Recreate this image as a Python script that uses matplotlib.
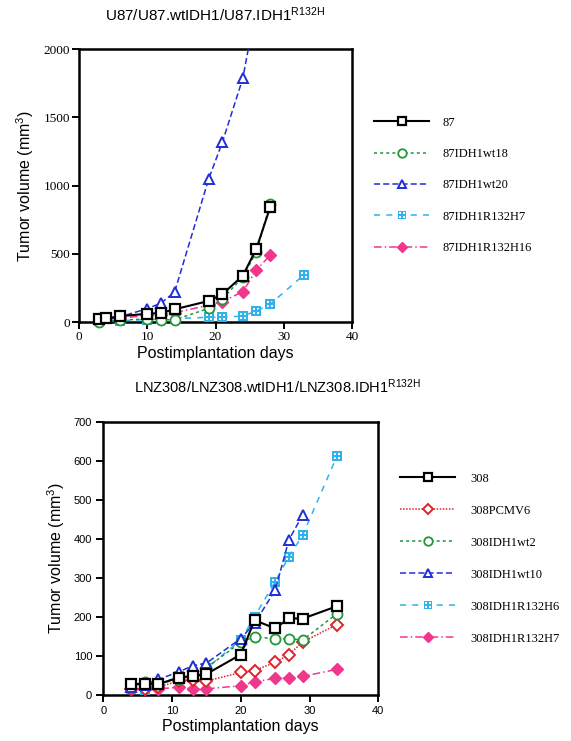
import matplotlib
matplotlib.use("Agg")
import matplotlib.pyplot as plt
from matplotlib.path import Path
import numpy as np

# ---------------- data ----------------
# Top panel: U87 lines
top_days_87 = [3, 4, 6, 10, 12, 14, 19, 21, 24, 26, 28]
top_v_87 = [22, 29, 44, 63, 68, 95, 156, 205, 341, 539, 841]
top_days_wt18 = [3, 6, 10, 12, 14, 19, 21, 24, 26, 28]
top_v_wt18 = [5, 15, 25, 20, 18, 102, 171, 330, 517, 868]
top_days_wt20 = [3, 4, 6, 10, 12, 14, 19, 21, 24, 26]
top_v_wt20 = [5, 15, 40, 100, 140, 220, 1049, 1317, 1785, 2320]
top_days_h7 = [3, 6, 10, 12, 19, 21, 24, 26, 28, 33]
top_v_h7 = [10, 12, 20, 22, 37, 37, 46, 83, 132, 349]
top_days_h16 = [3, 6, 10, 12, 14, 19, 21, 24, 26, 28]
top_v_h16 = [15, 30, 50, 55, 70, 125, 151, 224, 383, 490]

top_labels = ["87", "87IDH1wt18", "87IDH1wt20", "87IDH1R132H7", "87IDH1R132H16"]

# Bottom panel: LNZ308 lines
bot_days = [4, 6, 8, 11, 13, 15, 20, 22, 25, 27, 29, 34]
bot_v_308 = [27, 27, 27, 44, 48, 53, 103, 191, 170, 196, 195, 227]
bot_v_pcmv6 = [15, 15, 20, 35, 38, 35, 57, 62, 83, 103, 135, 180]
bot_v_wt2 = [25, 32, 28, 40, 50, 69, 134, 149, 143, 144, 140, 208]
bot_days_wt10 = [4, 6, 8, 11, 13, 15, 20, 22, 25, 27, 29]
bot_v_wt10 = [20, 25, 39, 59, 74, 81, 144, 183, 268, 397, 461]
bot_v_h6 = [15, 13, 25, 48, 58, 68, 140, 200, 290, 354, 409, 612]
bot_v_h7 = [15, 15, 15, 19, 15, 15, 23, 33, 42, 42, 47, 65]

bot_labels = ["308", "308PCMV6", "308IDH1wt2", "308IDH1wt10",
              "308IDH1R132H6", "308IDH1R132H7"]

top_yticks = [0, 500, 1000, 1500, 2000]
bot_yticks = [0, 100, 200, 300, 400, 500, 600, 700]
xticks = [0, 10, 20, 30, 40]

# ---------------- style ----------------
plt.rcParams['mathtext.fontset'] = 'custom'
plt.rcParams['mathtext.rm'] = 'Liberation Sans'
plt.rcParams['mathtext.it'] = 'Liberation Sans:italic'
plt.rcParams['mathtext.bf'] = 'Liberation Sans:bold'

BLACK = '#000000'
GREEN = '#23963a'
BLUE = '#1f2fd6'
CYAN = '#2eb4ea'
PINK = '#f0378e'
RED = '#e0222a'

SANS = 'Liberation Sans'
SERIF = 'Liberation Serif'
MS = 7.2


def window_marker():
    verts = [(-1, -1), (1, -1), (1, 1), (-1, 1), (-1, -1)]
    codes = [Path.MOVETO, Path.LINETO, Path.LINETO, Path.LINETO, Path.CLOSEPOLY]
    s = 0.2
    c = 0.36
    for cx, cy in [(-c, -c), (c, -c), (c, c), (-c, c)]:
        verts += [(cx - s, cy - s), (cx - s, cy + s), (cx + s, cy + s),
                  (cx + s, cy - s), (cx - s, cy - s)]
        codes += [Path.MOVETO, Path.LINETO, Path.LINETO, Path.LINETO, Path.CLOSEPOLY]
    return Path(verts, codes)


WIN = window_marker()

fig = plt.figure(figsize=(5.71, 7.41), dpi=100)

ax1 = fig.add_axes([79 / 571, 1 - 322.3 / 741, 273 / 571, 273.3 / 741])
ax2 = fig.add_axes([103.3 / 571, 1 - 694.7 / 741, 275 / 571, 273 / 741])


def style_axes(ax, yticks, tickfont, ticksize, pad):
    ax.set_xlim(0, 40)
    ax.set_ylim(yticks[0], yticks[-1])
    ax.set_xticks(xticks)
    ax.set_yticks(yticks)
    for sp in ax.spines.values():
        sp.set_linewidth(1.8)
    ax.tick_params(direction='out', length=5, width=1.4, pad=pad)
    for lab in ax.get_xticklabels() + ax.get_yticklabels():
        lab.set_fontfamily(tickfont)
        lab.set_fontsize(ticksize)
    ax.set_xlabel('Postimplantation days', fontfamily=SANS, fontsize=11.5, labelpad=2)
    ax.set_ylabel('Tumor volume (mm$^{3}$)', fontfamily=SANS, fontsize=11.5, labelpad=5)


# ---------------- top panel ----------------
common = dict(clip_on=False, zorder=3)
h_h7, = ax1.plot(top_days_h7, top_v_h7, color=CYAN, lw=1.1, ls=(0, (4, 4)),
                 marker=WIN, ms=7.6, mfc=CYAN, mec=CYAN, mew=0, **common)
h_h16, = ax1.plot(top_days_h16, top_v_h16, color=PINK, lw=1.1, ls=(0, (5, 2, 1, 2)),
                  marker='D', ms=5.8, mfc=PINK, mec=PINK, mew=1, **common)
h_wt20, = ax1.plot(top_days_wt20, top_v_wt20, color=BLUE, lw=1.1, ls=(0, (4, 2)),
                   marker='^', ms=MS, mfc='white', mec=BLUE, mew=1.4, clip_on=True, zorder=3)
h_wt18, = ax1.plot(top_days_wt18, top_v_wt18, color=GREEN, lw=1.1, ls=(0, (2, 2)),
                   marker='o', ms=MS, mfc='white', mec=GREEN, mew=1.3, **common)
h_87, = ax1.plot(top_days_87, top_v_87, color=BLACK, lw=1.5, ls='-',
                 marker='s', ms=MS, mfc='white', mec=BLACK, mew=1.6, clip_on=False, zorder=4)

style_axes(ax1, top_yticks, SERIF, 9.5, 1.5)

fig.text(215 / 571, 1 - 15 / 741, 'U87/U87.wtIDH1/U87.IDH1$^{\\mathrm{R132H}}$',
         ha='center', va='center', fontfamily=SANS, fontsize=11)

leg1 = fig.legend([h_87, h_wt18, h_wt20, h_h7, h_h16], top_labels,
                  loc='upper left', bbox_to_anchor=(374 / 571, 1 - 116.5 / 741),
                  frameon=False, prop={'family': SERIF, 'size': 9},
                  handlelength=4.4, handletextpad=1.1, labelspacing=1.55,
                  borderpad=0, borderaxespad=0, markerscale=0.85)

# ---------------- bottom panel ----------------
b_h6, = ax2.plot(bot_days, bot_v_h6, color=CYAN, lw=1.1, ls=(0, (4, 4)),
                 marker=WIN, ms=7.6, mfc=CYAN, mec=CYAN, mew=0, **common)
b_h7, = ax2.plot(bot_days, bot_v_h7, color=PINK, lw=1.1, ls=(0, (5, 2, 1, 2)),
                 marker='D', ms=5.8, mfc=PINK, mec=PINK, mew=1, **common)
b_pc, = ax2.plot(bot_days, bot_v_pcmv6, color=RED, lw=1.1, ls=(0, (1, 1)),
                 marker='D', ms=5.8, mfc='white', mec=RED, mew=1.4, **common)
b_wt2, = ax2.plot(bot_days, bot_v_wt2, color=GREEN, lw=1.1, ls=(0, (2, 2)),
                  marker='o', ms=MS, mfc='white', mec=GREEN, mew=1.3, **common)
b_wt10, = ax2.plot(bot_days_wt10, bot_v_wt10, color=BLUE, lw=1.1, ls=(0, (4, 2)),
                   marker='^', ms=MS, mfc='white', mec=BLUE, mew=1.4, **common)
b_308, = ax2.plot(bot_days, bot_v_308, color=BLACK, lw=1.5, ls='-',
                  marker='s', ms=MS, mfc='white', mec=BLACK, mew=1.6, clip_on=False, zorder=4)

style_axes(ax2, bot_yticks, SANS, 8, 3)

fig.text(277 / 571, 1 - 387 / 741, 'LNZ308/LNZ308.wtIDH1/LNZ308.IDH1$^{\\mathrm{R132H}}$',
         ha='center', va='center', fontfamily=SANS, fontsize=10.5)

leg2 = fig.legend([b_308, b_pc, b_wt2, b_wt10, b_h6, b_h7], bot_labels,
                  loc='upper left', bbox_to_anchor=(400 / 571, 1 - 472.5 / 741),
                  frameon=False, prop={'family': SERIF, 'size': 9},
                  handlelength=4.4, handletextpad=1.2, labelspacing=1.6,
                  borderpad=0, borderaxespad=0, markerscale=0.85)

fig.savefig('out.png', dpi=100)
